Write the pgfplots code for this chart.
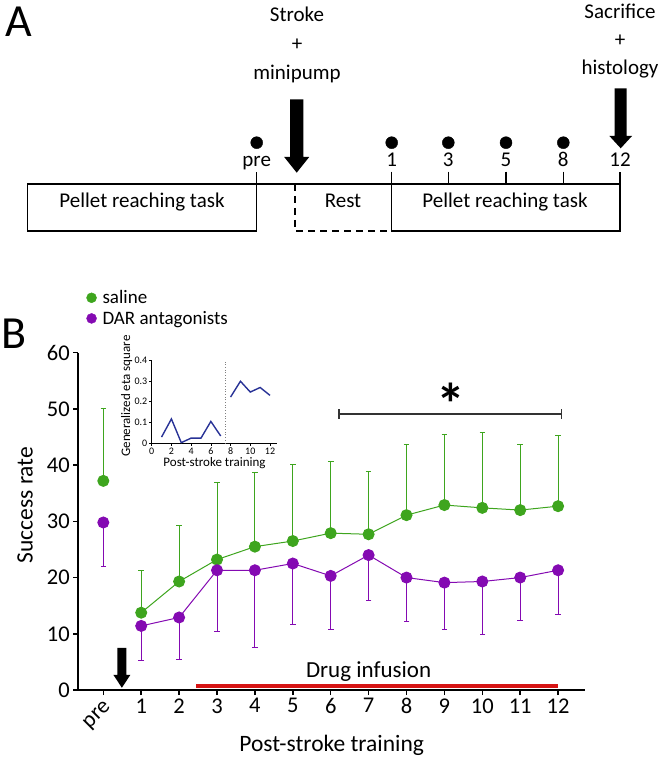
\documentclass[border=0pt]{standalone}
\usepackage{fontspec}
\setmainfont{Carlito}
\usepackage{pgfplots}
\pgfplotsset{compat=1.18}
\definecolor{sal}{RGB}{62,165,30}
\definecolor{dar}{RGB}{132,10,178}
\definecolor{eta}{RGB}{40,50,150}
\definecolor{drug}{RGB}{214,20,20}
\tikzset{tl/.style={font=\fontsize{21}{25}\selectfont}}

\begin{document}
\begin{tikzpicture}
\useasboundingbox (0,0) rectangle (665pt,759pt);
\node[font=\fontsize{46}{46}\selectfont] at (19pt,737pt) {A};
\node[font=\fontsize{46}{46}\selectfont] at (14pt,425pt) {B};

% panel A: timeline, coordinates in pixels of the original
\begin{axis}[at={(0pt,509pt)}, anchor=south west, scale only axis,
    width=665pt, height=250pt, xmin=0, xmax=665, ymin=0, ymax=250,
    y dir=reverse, hide axis, clip=false]
\addplot[only marks, mark=*, mark size=6pt, black] coordinates {
    (256.7,142.7) (391.7,142.7) (448.3,142.7) (506,142.7) (563.3,142.7)};
\draw[line width=1.3pt] (27.3,184) -- (620,184);
\draw[line width=1.3pt] (27.3,184) -- (27.3,231) -- (256.7,231) -- (256.7,171.7);
\draw[line width=1.3pt, dash pattern=on 7pt off 5pt] (295,184) -- (295,231) -- (391.7,231);
\draw[line width=1.3pt] (391.7,171.7) -- (391.7,231) -- (620,231) -- (620,171.7);
\draw[line width=1.3pt] (448.3,171.7) -- (448.3,184);
\draw[line width=1.3pt] (506,171.7) -- (506,184);
\draw[line width=1.3pt] (563.3,171.7) -- (563.3,184);
\node[tl, anchor=base] at (142,208) {Pellet reaching task};
\node[tl, anchor=base] at (343,208) {Rest};
\node[tl, anchor=base] at (505,208) {Pellet reaching task};
\node[tl, anchor=base] at (256.7,166.7) {pre};
\node[tl, anchor=base] at (391.7,166.7) {1};
\node[tl, anchor=base] at (448.3,166.7) {3};
\node[tl, anchor=base] at (506,166.7) {5};
\node[tl, anchor=base] at (563.3,166.7) {8};
\node[tl, anchor=base] at (620,166.7) {12};
\fill (290,99.3) -- (303.3,99.3) -- (303.3,157) -- (309.2,157) -- (296.7,172.7)
    -- (284.2,157) -- (290,157) -- cycle;
\fill (614.7,88.3) -- (626.7,88.3) -- (626.7,136) -- (632,136) -- (620.7,148.3)
    -- (609.4,136) -- (614.7,136) -- cycle;
\node[tl, anchor=base] at (297,22) {Stroke};
\node[tl, anchor=base] at (297,51) {+};
\node[tl, anchor=base] at (297,80) {minipump};
\node[tl, anchor=base] at (620,19) {Sacrifice};
\node[tl, anchor=base] at (620,47) {+};
\node[tl, anchor=base] at (620,75) {histology};
\end{axis}

% panel B
\begin{axis}[at={(78.3pt,69pt)}, anchor=south west, scale only axis,
    width=506.7pt, height=337.3pt,
    xmin=-0.66, xmax=12.71, ymin=0, ymax=60,
    axis lines*=left, axis line style={line width=1.8pt},
    xtick={1,...,12}, ytick={0,10,...,60},
    extra x ticks={0}, extra x tick labels={pre},
    extra x tick style={tick label style={rotate=45, anchor=north east}},
    tick align=outside, major tick length=5pt,
    tick style={line width=1.5pt, black},
    tick label style={font=\fontsize{22.5}{27}\selectfont},
    /pgf/number format/assume math mode=true,
    xlabel={Post-stroke training}, ylabel={Success rate},
    label style={font=\fontsize{23.5}{27}\selectfont},
    xlabel style={at={(axis description cs:0.5,-0.163)}, anchor=center},
    ylabel style={at={(axis description cs:-0.105,0.548)}, anchor=center},
    clip=false,
    legend cell align=left,
    legend style={draw=none, fill=none, at={(axis description cs:0.01,1.197)},
        anchor=north west, font=\fontsize{19}{22}\selectfont, row sep=2pt,
        /tikz/every odd column/.append style={column sep=4pt}}]
\addlegendimage{only marks, mark=*, mark size=5pt, sal, mark options={fill=sal}}
\addlegendentry{saline}
\addlegendimage{only marks, mark=*, mark size=5pt, dar, mark options={fill=dar}}
\addlegendentry{DAR antagonists}

% saline
\addplot[forget plot, sal, line width=1pt, mark=*, mark size=5.5pt,
    mark options={fill=sal, draw=sal},
    error bars/.cd, y dir=plus, y explicit, error mark=|,
    error bar style={line width=1pt, sal},
    error mark options={line width=1pt, mark size=2.8pt, sal}]
    coordinates {(0,37.2) +- (0,12.8)};
\addplot[forget plot, sal, line width=1pt, mark=*, mark size=5.5pt,
    mark options={fill=sal, draw=sal},
    error bars/.cd, y dir=plus, y explicit, error mark=|,
    error bar style={line width=1pt, sal},
    error mark options={line width=1pt, mark size=2.8pt, sal}]
    coordinates {
    (1,13.75) +- (0,7.55)
    (2,19.3) +- (0,10.0)
    (3,23.2) +- (0,13.7)
    (4,25.5) +- (0,13.2)
    (5,26.5) +- (0,13.6)
    (6,27.9) +- (0,12.8)
    (7,27.7) +- (0,11.2)
    (8,31.1) +- (0,12.6)
    (9,32.9) +- (0,12.6)
    (10,32.4) +- (0,13.4)
    (11,32.0) +- (0,11.7)
    (12,32.7) +- (0,12.6)
};
% DAR antagonists
\addplot[forget plot, dar, line width=1pt, mark=*, mark size=5.5pt,
    mark options={fill=dar, draw=dar},
    error bars/.cd, y dir=minus, y explicit, error mark=|,
    error bar style={line width=1pt, dar},
    error mark options={line width=1pt, mark size=2.8pt, dar}]
    coordinates {(0,29.8) +- (0,7.9)};
\addplot[forget plot, dar, line width=1pt, mark=*, mark size=5.5pt,
    mark options={fill=dar, draw=dar},
    error bars/.cd, y dir=minus, y explicit, error mark=|,
    error bar style={line width=1pt, dar},
    error mark options={line width=1pt, mark size=2.8pt, dar}]
    coordinates {
    (1,11.4) +- (0,6.2)
    (2,12.9) +- (0,7.4)
    (3,21.3) +- (0,10.9)
    (4,21.3) +- (0,13.7)
    (5,22.5) +- (0,10.8)
    (6,20.3) +- (0,9.6)
    (7,24.0) +- (0,8.1)
    (8,20.0) +- (0,7.8)
    (9,19.1) +- (0,8.3)
    (10,19.3) +- (0,9.5)
    (11,20.0) +- (0,7.7)
    (12,21.3) +- (0,7.9)
};

\draw[drug, line width=4.5pt] (2.45,0.7) -- (12,0.7);
\node[anchor=center, font=\fontsize{23}{27}\selectfont] at (7,3.3) {Drug infusion};
\fill (0.37,7.5) -- (0.61,7.5) -- (0.61,2.7) -- (0.715,2.7) -- (0.49,0.4)
    -- (0.265,2.7) -- (0.37,2.7) -- cycle;
\draw[line width=1.3pt, black!80, {|-|}] (6.2,49.1) -- (12.1,49.1);
\node[font=\fontsize{58}{58}\selectfont\bfseries] at (9.17,51.0) {*};
\end{axis}

% inset
\begin{axis}[at={(151.7pt,315.7pt)}, anchor=south west, scale only axis,
    width=125.6pt, height=83.3pt,
    xmin=0, xmax=12.74, ymin=0, ymax=0.4,
    axis lines*=left, axis line style={line width=0.8pt},
    xtick={0,2,...,12}, ytick={0,0.1,0.2,0.3,0.4},
    yticklabels={0,0.1,0.2,0.3,0.4},
    tick align=outside, major tick length=2.5pt,
    tick style={line width=0.6pt, black},
    tick label style={font=\fontsize{10}{12}\selectfont},
    yticklabel style={xshift=1.5pt},
    xticklabel style={yshift=1.5pt},
    /pgf/number format/assume math mode=true,
    xlabel={Post-stroke training}, ylabel={Generalized eta square},
    label style={font=\fontsize{13}{14}\selectfont},
    xlabel style={at={(axis description cs:0.5,-0.233)}, anchor=center},
    ylabel style={at={(axis description cs:-0.2,0.568)}, anchor=center},
    clip=false]
\draw[gray, dotted, line width=0.7pt] (7.5,0) -- (7.5,0.4);
\addplot[eta, line width=1.4pt] coordinates {
    (1,0.03) (2,0.117) (3,0.003) (4,0.025) (5,0.025) (6,0.105) (7,0.035)};
\addplot[eta, line width=1.4pt] coordinates {
    (8,0.222) (9,0.298) (10,0.246) (11,0.268) (12,0.23)};
\end{axis}
\end{tikzpicture}
\end{document}
